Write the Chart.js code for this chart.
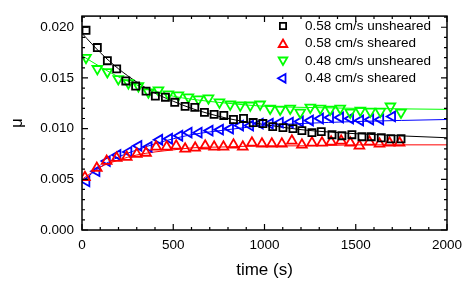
<!DOCTYPE html>
<html><head><meta charset="utf-8">
<script src="https://cdn.jsdelivr.net/npm/chart.js@4"></script>
<style>html,body{margin:0;padding:0;background:#fff}#wrap{width:471px;height:283px}</style>
</head><body><div id="wrap"><canvas id="c" width="471" height="283"></canvas></div>
<script>
// ---- data ----
const seriesNames = ["0.58 cm/s unsheared","0.58 cm/s sheared","0.48 cm/s unsheared","0.48 cm/s sheared"];

const blackT  = [22,84,139,190,240,294,351,402,457,508,565,618,671,724,777,830,885,938,991,1045,1101,1156,1205,1260,1311,1370,1424,1479,1534,1585,1640,1693,1748];
const blackMu = [0.0197,0.0180,0.0167,0.0159,0.0147,0.0142,0.0137,0.0132,0.0131,0.0126,0.0122,0.0121,0.0116,0.0114,0.0113,0.0109,0.0110,0.0106,0.0105,0.0102,0.0101,0.0100,0.0098,0.0096,0.0097,0.0094,0.0093,0.0094,0.0092,0.0092,0.0091,0.0090,0.0090];

const redT  = [16,81,135,190,245,300,351,406,464,516,565,620,675,724,775,830,881,931,986,1040,1095,1150,1205,1260,1315,1365,1420,1470,1520,1575,1630,1685,1740];
const redMu = [0.0052,0.0061,0.0068,0.0071,0.0072,0.0075,0.0076,0.0082,0.0082,0.0083,0.0080,0.0081,0.0083,0.0082,0.0082,0.0084,0.0082,0.0086,0.0085,0.0085,0.0085,0.0088,0.0084,0.0086,0.0086,0.0087,0.0088,0.0086,0.0083,0.0087,0.0085,0.0086,0.0086];

const greenT  = [22,84,139,199,254,309,364,419,473,528,583,638,693,753,812,867,922,976,1031,1086,1141,1196,1251,1306,1360,1415,1470,1525,1580,1635,1690,1748];
const greenMu = [0.0170,0.0159,0.0156,0.0149,0.0145,0.0142,0.0136,0.0138,0.0134,0.0133,0.0131,0.0129,0.0130,0.0126,0.0124,0.0123,0.0123,0.0124,0.0120,0.0119,0.0120,0.0116,0.0121,0.0120,0.0119,0.0120,0.0116,0.0118,0.0117,0.0117,0.0122,0.0116];

const blueT  = [25,80,137,195,255,310,366,424,478,534,585,640,700,757,812,867,922,975,1030,1085,1140,1195,1250,1305,1360,1415,1470,1525,1580,1635,1700];
const blueMu = [0.0048,0.0058,0.0068,0.0074,0.0077,0.0083,0.0082,0.0089,0.0090,0.0093,0.0096,0.0096,0.0098,0.0099,0.0100,0.0103,0.0103,0.0105,0.0105,0.0106,0.0106,0.0107,0.0108,0.0110,0.0111,0.0111,0.0110,0.0108,0.0109,0.0109,0.0112];

// fitted curves, read at these times
const fitT      = [0,100,200,300,400,500,600,800,1000,1200,1500,2000];
const blackFit  = [0.0194,0.0175,0.0159,0.0146,0.0135,0.0127,0.0120,0.0110,0.0104,0.0099,0.0095,0.0091];
const redFit    = [0.0050,0.0062,0.0069,0.0074,0.0077,0.0079,0.0081,0.0082,0.0083,0.0083,0.0084,0.0084];
const greenFit  = [0.0172,0.0161,0.0151,0.0143,0.0137,0.0132,0.0129,0.0125,0.0122,0.0121,0.0120,0.0119];
const blueFit   = [0.0048,0.0062,0.0072,0.0079,0.0085,0.0090,0.0094,0.0099,0.0103,0.0105,0.0107,0.0109];

const xTicks = [0,500,1000,1500,2000];
const yTicks = [0.000,0.005,0.010,0.015,0.020];

// ---- build ----
const pts = (t, v) => t.map((x, i) => ({x, y: v[i]}));
const FONT = "'Liberation Sans', Arial, Helvetica, sans-serif";
const BW = 1.8;
const markers = [
  {color:'#000000', style:'rect', rot:0, r:5.0},
  {color:'#ff0000', style:'triangle', rot:0, r:5.6},
  {color:'#00ff00', style:'triangle', rot:180, r:5.6},
  {color:'#0000ff', style:'triangle', rot:270, r:5.6}
];
const fits = [blackFit, redFit, greenFit, blueFit];
const scat = [[blackT,blackMu],[redT,redMu],[greenT,greenMu],[blueT,blueMu]];

const datasets = [];
fits.forEach((f, i) => datasets.push({
  type:'line', data: pts(fitT, f), borderColor: markers[i].color, borderWidth: 1,
  pointRadius: 0, fill: false, cubicInterpolationMode: 'monotone', showLine: true, order: 2
}));
scat.forEach((s, i) => datasets.push({
  type:'scatter', label: seriesNames[i], data: pts(s[0], s[1]),
  borderColor: markers[i].color, backgroundColor: 'rgba(0,0,0,0)',
  pointStyle: markers[i].style, rotation: markers[i].rot, pointRadius: markers[i].r,
  pointBorderWidth: BW, showLine: false, order: 1
}));

function drawMarker(ctx, m, x, y) {
  ctx.save();
  ctx.strokeStyle = m.color; ctx.fillStyle = 'rgba(0,0,0,0)'; ctx.lineWidth = BW;
  if (Chart.helpers && Chart.helpers.drawPoint) {
    Chart.helpers.drawPoint(ctx, {pointStyle: m.style, rotation: m.rot, radius: m.r - 0.6, borderWidth: BW}, x, y);
  }
  ctx.restore();
}

const framePlugin = {
  id: 'frame',
  afterDatasetsDraw(chart) {
    const {ctx, chartArea: a, scales: {x, y}} = chart;
    ctx.save();
    ctx.strokeStyle = '#000'; ctx.lineWidth = 1.5;
    ctx.strokeRect(a.left, a.top, a.right - a.left, a.bottom - a.top);
    ctx.lineWidth = 1.2;
    ctx.beginPath();
    for (let v = 0; v <= 2000; v += 100) {
      const px = x.getPixelForValue(v);
      const L = v % 500 === 0 ? 6 : 3;
      ctx.moveTo(px, a.bottom); ctx.lineTo(px, a.bottom - L);
      ctx.moveTo(px, a.top); ctx.lineTo(px, a.top + L);
    }
    for (let k = 0; k <= 21; k++) {
      const v = k / 1000;
      const py = y.getPixelForValue(v);
      const L = k % 5 === 0 ? 6 : 3;
      ctx.moveTo(a.left, py); ctx.lineTo(a.left + L, py);
      ctx.moveTo(a.right, py); ctx.lineTo(a.right - L, py);
    }
    ctx.stroke();
    // legend
    ctx.font = '13.5px ' + FONT;
    ctx.fillStyle = '#000'; ctx.textBaseline = 'middle'; ctx.textAlign = 'left';
    const lx = 283, tx = 305, rows = [26, 43.5, 61, 78.3];
    markers.forEach((m, i) => {
      drawMarker(ctx, m, lx, rows[i] + (m.style === 'triangle' && m.rot === 0 ? 1 : (m.rot === 180 ? -1 : 0)));
      ctx.fillStyle = '#000';
      ctx.fillText(seriesNames[i], tx, rows[i]);
    });
    ctx.restore();
  }
};

new Chart(document.getElementById('c'), {
  type: 'scatter',
  data: { datasets },
  plugins: [framePlugin],
  options: {
    responsive: false, animation: false, devicePixelRatio: 1,
    layout: { padding: { top: 6, right: 24, left: 0, bottom: 0 } },
    plugins: { legend: { display: false }, tooltip: { enabled: false } },
    scales: {
      x: {
        type: 'linear', min: 0, max: 2000,
        afterBuildTicks: s => { s.ticks = xTicks.map(v => ({value: v})); },
        afterFit: s => { s.height = 53; },
        grid: { display: false, drawTicks: false },
        border: { display: false },
        ticks: { color: '#000', font: { family: FONT, size: 13.5 }, padding: 7, maxRotation: 0, callback: v => String(v) },
        title: { display: true, text: 'time (s)', color: '#000', font: { family: FONT, size: 17 }, padding: { top: 4, bottom: 2 } }
      },
      y: {
        type: 'linear', min: 0, max: 0.0211,
        afterBuildTicks: s => { s.ticks = yTicks.map(v => ({value: v})); },
        afterFit: s => { s.width = 82; },
        grid: { display: false, drawTicks: false },
        border: { display: false },
        ticks: { color: '#000', font: { family: FONT, size: 13.5 }, padding: 8, callback: v => Number(v).toFixed(3) },
        title: { display: true, text: 'μ', color: '#000', font: { family: FONT, size: 17 }, padding: { top: 7, bottom: 4 } }
      }
    }
  }
});
</script>
</body></html>
